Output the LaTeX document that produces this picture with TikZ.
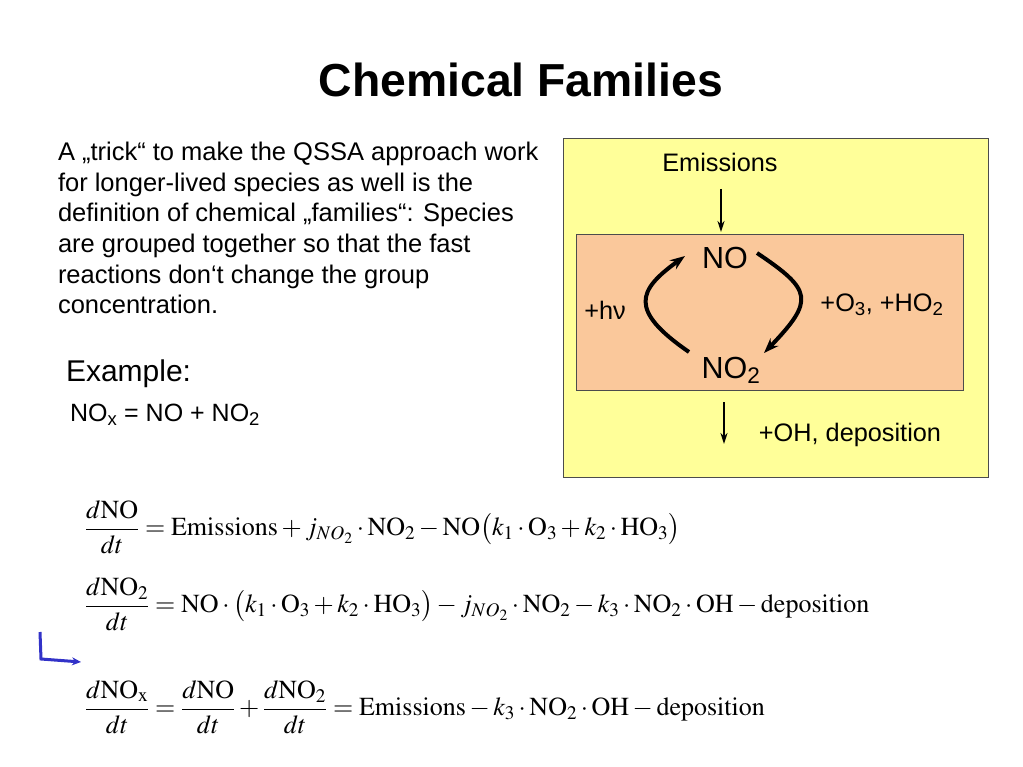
\documentclass[tikz,border=0pt]{standalone}
\usepackage{mathptmx}
\usepackage[no-math]{fontspec}
\setmainfont{Liberation Sans}
\usetikzlibrary{arrows.meta}
\definecolor{boxyellow}{RGB}{255,255,153}
\definecolor{boxorange}{RGB}{250,200,155}
\definecolor{arrowblue}{RGB}{50,50,200}
\begin{document}
\begin{tikzpicture}[x=1pt,y=-1pt,
  every node/.style={inner sep=0pt, outer sep=0pt},
  txt/.style={font=\fontsize{25.5}{30.7}\selectfont},
  boxtxt/.style={font=\fontsize{25.3}{28}\selectfont},
  species/.style={font=\fontsize{30.5}{34}\selectfont},
  eqn/.style={font=\fontsize{26}{30}\selectfont, anchor=west},
  thinarrow/.style={-{Stealth[length=11pt,width=7pt]}, line width=2.2pt},
  cyclearrow/.style={-{Stealth[length=15pt,width=11pt]}, line width=4pt},
]
\useasboundingbox (0,0) rectangle (1023,767);
\fill[white] (0,0) rectangle (1023,767);

% title
\node[font=\fontsize{46.3}{52}\selectfont\bfseries] (title) at (521,80) {Chemical Families};

% paragraph
\node[txt, anchor=north west, align=left] (para) at (58,142) {A „trick“ to make the QSSA approach work\\
for longer-lived species as well is the\\
definition of chemical „families“: Species\\
are grouped together so that the fast\\
reactions don‘t change the group\\
concentration.};

\node[font=\fontsize{30}{34}\selectfont, anchor=west] (example) at (66,374) {Example:};
\node[txt, font=\fontsize{25}{30}\selectfont, anchor=west] (nox) at (70,415) {NO\textsubscript{x} = NO + NO\textsubscript{2}};

% boxes
\draw[fill=boxyellow, draw=black!70, line width=0.8pt] (563,138) rectangle (988,477);
\node[draw=black!70, fill=boxorange, line width=0.8pt, minimum width=387pt, minimum height=156pt, anchor=north west] (family) at (576,234) {};

\node[boxtxt] (emis) at (720,162) {Emissions};
\node[species] (no) at (725,258) {NO};
\node[species] (no2) at (731,370) {NO\textsubscript{2}};
\node[boxtxt] (hnu) at (605,310) {+hν};
\node[boxtxt] (o3) at (882,305) {+O\textsubscript{3}, +HO\textsubscript{2}};
\node[boxtxt] (oh) at (850,435) {+OH, deposition};

\coordinate (emisstart) at (721,189);
\coordinate (emisend) at (721,232);
\draw[thinarrow] (emisstart) -- (emisend);
\coordinate (lossstart) at (724,402);
\coordinate (lossend) at (724,444);
\draw[thinarrow] (lossstart) -- (lossend);

\draw[cyclearrow] (689,352) .. controls (628,310) and (638,290) .. (685,256);
\draw[cyclearrow] (757,253) .. controls (812,290) and (815,300) .. (764,353);

% equations
\node[eqn] (eq1) at (85,527) {$\displaystyle \frac{d\mathrm{NO}}{dt} = \mathrm{Emissions} + j_{NO_2}\cdot\mathrm{NO}_2 - \mathrm{NO}\bigl(k_1\cdot\mathrm{O}_3 + k_2\cdot\mathrm{HO}_3\bigr)$};
\node[eqn] (eq2) at (85,604) {$\displaystyle \frac{d\mathrm{NO}_2}{dt} = \mathrm{NO}\cdot\bigl(k_1\cdot\mathrm{O}_3 + k_2\cdot\mathrm{HO}_3\bigr) - j_{NO_2}\cdot\mathrm{NO}_2 - k_3\cdot\mathrm{NO}_2\cdot\mathrm{OH} - \mathrm{deposition}$};
\node[eqn] (eq3) at (85,707) {$\displaystyle \frac{d\mathrm{NO}_\mathrm{x}}{dt} = \frac{d\mathrm{NO}}{dt} + \frac{d\mathrm{NO}_2}{dt} = \mathrm{Emissions} - k_3\cdot\mathrm{NO}_2\cdot\mathrm{OH} - \mathrm{deposition}$};

% blue arrow
\coordinate (b1) at (40,632);
\coordinate (b2) at (41,659);
\coordinate (b3) at (81,662);
\draw[arrowblue, line width=3pt, -{Stealth[length=9pt,width=8pt]}] (b1) -- (b2) -- (b3);
\end{tikzpicture}
\end{document}
